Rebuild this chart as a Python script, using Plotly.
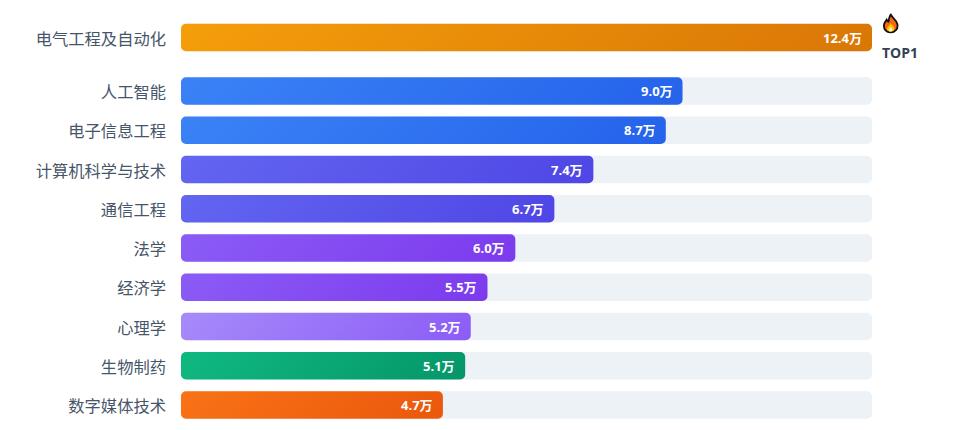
import urllib.parse

import plotly.graph_objects as go

majors = ["电气工程及自动化", "人工智能", "电子信息工程", "计算机科学与技术", "通信工程",
          "法学", "经济学", "心理学", "生物制药", "数字媒体技术"]
values = [12.4, 9.0, 8.7, 7.4, 6.7, 6.0, 5.5, 5.2, 5.1, 4.7]
color_start = ["#f59e0b", "#3b82f6", "#3b82f6", "#6366f1", "#6366f1",
               "#8b5cf6", "#8b5cf6", "#a78bfa", "#10b981", "#f97316"]
color_end = ["#d97706", "#2563eb", "#2563eb", "#4f46e5", "#4f46e5",
             "#7c3aed", "#7c3aed", "#8b5cf6", "#059669", "#ea580c"]

FONT = "Noto Sans CJK SC, Microsoft YaHei, sans-serif"
NUM_FONT = "Open Sans, Noto Sans CJK SC, sans-serif"
ROW_PX = 39.25
BAR_PX = 27.5
# top bar sits a bit apart from the others
rows = [0] + [i + 53.5 / ROW_PX - 1 for i in range(1, len(values))]

flame = """<svg xmlns='http://www.w3.org/2000/svg' viewBox='0 0 16 20'>
<path d='M8 .9C9 4 14 6 14.8 10.8 15.5 15.6 12.3 19 8 19S.8 15.8 1.3 11.6C1.6 9 3.2 7.6 4 6.2 4.6 7.4 5 8 5.8 8.2 6.2 5.5 6.6 3 8 .9Z' fill='#f4680f' stroke='#111' stroke-width='1.8'/>
<path d='M8 9.5C8.8 11.8 12 12.8 11.7 15.4 11.4 17.4 9.8 18 8 18S4.4 17.2 4.4 15.4C4.4 13 7.2 12 8 9.5Z' fill='#ffc107'/>
<path d='M8 13.4C8.5 14.6 10 15.2 9.8 16.5 9.6 17.6 8.8 18 8 18S6.2 17.6 6.2 16.5C6.2 15.3 7.6 14.6 8 13.4Z' fill='#fff6b0'/>
</svg>"""

fig = go.Figure()
fig.add_trace(go.Bar(y=rows, x=[max(values)] * len(values), orientation="h",
                     width=BAR_PX / ROW_PX, marker=dict(color="#edf2f7", line_width=0),
                     hoverinfo="skip", showlegend=False))
fig.add_trace(go.Bar(y=rows, x=values, orientation="h", width=BAR_PX / ROW_PX,
                     marker=dict(color=color_start, line_width=0),
                     hovertemplate="%{customdata}: %{x}万<extra></extra>",
                     customdata=majors, showlegend=False))

for r, v in zip(rows, values):
    fig.add_annotation(x=v, y=r, text=f"<b>{v:.1f}万</b>", showarrow=False,
                       xanchor="right", xshift=-8, yshift=0,
                       font=dict(family=NUM_FONT, size=13, color="#ffffff"))

fig.add_annotation(xref="paper", x=1, y=rows[0], text="<b>TOP1</b>", showarrow=False,
                   xanchor="left", xshift=8, yshift=-15,
                   font=dict(family=NUM_FONT, size=14, color="#334155"))
fig.add_layout_image(source="data:image/svg+xml," + urllib.parse.quote(flame),
                     xref="paper", yref="paper", x=1.0145, y=1 - 13.5 / 430,
                     sizex=0.025, sizey=20 / 430, xanchor="left", yanchor="top",
                     sizing="contain", layer="above")

fig.update_layout(
    width=963, height=430, barmode="overlay",
    margin=dict(l=181, r=91, t=0, b=0),
    paper_bgcolor="#ffffff", plot_bgcolor="#ffffff",
    font=dict(family=FONT),
    xaxis=dict(range=[0, max(values)], visible=False),
    yaxis=dict(range=[(430 - 37.5) / ROW_PX, -37.5 / ROW_PX], tickmode="array",
               tickvals=rows, ticktext=majors, ticklabelstandoff=14, showgrid=False,
               zeroline=False, showline=False, ticks="",
               tickfont=dict(family=FONT, size=16.3, color="#475569")),
)

# plotly bars have no gradient fill or all-round corners, so finish them in the page
post = """
document.body.style.margin = '0';
document.body.style.overflow = 'hidden';
var starts = %s, ends = %s, R = 5, NS = 'http://www.w3.org/2000/svg';
var svg = document.querySelector('.main-svg');
var defs = svg.querySelector('defs');
function round(p) {
  var b = p.getBBox(), x = b.x, y = b.y, w = b.width, h = b.height;
  p.setAttribute('d', 'M' + (x + R) + ',' + y + 'H' + (x + w - R) + 'A' + R + ',' + R + ' 0 0 1 ' + (x + w) + ',' + (y + R) +
    'V' + (y + h - R) + 'A' + R + ',' + R + ' 0 0 1 ' + (x + w - R) + ',' + (y + h) +
    'H' + (x + R) + 'A' + R + ',' + R + ' 0 0 1 ' + x + ',' + (y + h - R) +
    'V' + (y + R) + 'A' + R + ',' + R + ' 0 0 1 ' + (x + R) + ',' + y + 'Z');
  return b;
}
document.querySelectorAll('.barlayer .trace').forEach(function (t, ti) {
  t.querySelectorAll('.point path').forEach(function (p, i) {
    var b = round(p);
    if (ti === 0) return;
    // same geometry as a css 135deg gradient
    var cx = b.x + b.width / 2, cy = b.y + b.height / 2, d = (b.width + b.height) / 4;
    var g = document.createElementNS(NS, 'linearGradient');
    g.setAttribute('id', 'bargrad' + i);
    g.setAttribute('gradientUnits', 'userSpaceOnUse');
    g.setAttribute('x1', cx - d); g.setAttribute('y1', cy - d);
    g.setAttribute('x2', cx + d); g.setAttribute('y2', cy + d);
    [[0, starts[i]], [1, ends[i]]].forEach(function (s) {
      var stop = document.createElementNS(NS, 'stop');
      stop.setAttribute('offset', s[0]);
      stop.setAttribute('stop-color', s[1]);
      g.appendChild(stop);
    });
    defs.appendChild(g);
    p.style.fill = 'url(#bargrad' + i + ')';
  });
});
document.querySelectorAll('.ytick text').forEach(function (t) {
  t.setAttribute('y', parseFloat(t.getAttribute('y')) + 1.5);
});
""" % (str(color_start), str(color_end))

fig.write_html("out.html", post_script=post, config=dict(displayModeBar=False))
